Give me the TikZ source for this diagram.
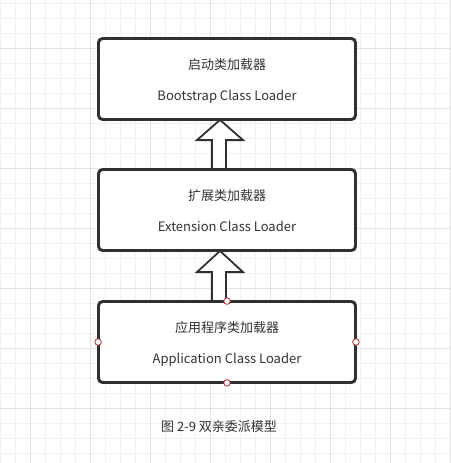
\documentclass[tikz,border=0pt]{standalone}
\usepackage{fontspec}
\setmainfont{Noto Sans CJK SC}
\usetikzlibrary{calc}
\definecolor{gridminor}{HTML}{F0F0F0}
\definecolor{gridmajor}{HTML}{E2E2E2}
\definecolor{ink}{HTML}{303030}
\definecolor{txt}{HTML}{333333}
\definecolor{port}{HTML}{A83232}
\tikzset{
  loaderbox/.style={draw=ink, line width=1.8pt, rounded corners=4pt, fill=white,
    minimum width=256pt, minimum height=80pt, inner sep=0pt},
  label/.style={text=txt, font=\fontsize{13}{15}\selectfont, inner sep=0pt, anchor=base},
  blockarrow/.style={draw=ink, line width=1.8pt, fill=white, line join=miter},
  portdot/.style={circle, draw=port, fill=white, line width=0.8pt, minimum size=6.5pt, inner sep=0pt}
}
\begin{document}
\begin{tikzpicture}[x=1pt,y=-1pt]
\useasboundingbox (0,0) rectangle (450,463);
\fill[white] (0,0) rectangle (450,463);
% grid
\foreach \x in {0,15,...,450} \draw[gridminor, line width=0.8pt] (\x,0) -- (\x,463);
\foreach \y in {3,18,...,463} \draw[gridminor, line width=0.8pt] (0,\y) -- (450,\y);
\foreach \x in {30,90,...,450} \draw[gridmajor, line width=0.9pt] (\x,0) -- (\x,463);
\foreach \y in {48,108,...,463} \draw[gridmajor, line width=0.9pt] (0,\y) -- (450,\y);

% boxes
\node[loaderbox] (boot) at (227,79) {};
\node[loaderbox] (ext) at (227,210) {};
\node[loaderbox] (app) at (227,342) {};

% block arrows
\draw[blockarrow]
  ($(ext.north)+(-15,0)$) -- ($(ext.north)+(-15,-29)$) -- ($(ext.north)+(-30,-29)$)
  -- ($(boot.south)+(-7,0)$)
  -- ($(ext.north)+(16,-29)$) -- ($(ext.north)+(-1,-29)$) -- ($(ext.north)+(-1,0)$);
\draw[blockarrow]
  ($(app.north)+(-15,0)$) -- ($(app.north)+(-15,-29)$) -- ($(app.north)+(-30,-29)$)
  -- ($(ext.south)+(-7,0)$)
  -- ($(app.north)+(16,-29)$) -- ($(app.north)+(-1,-29)$) -- ($(app.north)+(-1,0)$);
% redraw box edges over arrow ends
\draw[draw=ink, line width=1.8pt, rounded corners=4pt] (boot.south west) rectangle (boot.north east);
\draw[draw=ink, line width=1.8pt, rounded corners=4pt] (ext.south west) rectangle (ext.north east);
\draw[draw=ink, line width=1.8pt, rounded corners=4pt] (app.south west) rectangle (app.north east);

% labels
\node[label] (bootcn) at ($(boot.north)+(0,31)$) {启动类加载器};
\node[label] (booten) at ($(boot.north)+(0,62.5)$) {Bootstrap Class Loader};
\node[label] (extcn) at ($(ext.north)+(0,31)$) {扩展类加载器};
\node[label] (exten) at ($(ext.north)+(0,62.5)$) {Extension Class Loader};
\node[label] (appcn) at ($(app.north)+(0,31)$) {应用程序类加载器};
\node[label] (appen) at ($(app.north)+(0,62.5)$) {Application Class Loader};

% ports
\node[portdot] (pn) at (app.north) {};
\node[portdot] (ps) at (app.south) {};
\node[portdot] (pw) at (app.west) {};
\node[portdot] (pe) at (app.east) {};

% caption
\node[label] (caption) at (219,431) {图 2-9 双亲委派模型};
\end{tikzpicture}
\end{document}
